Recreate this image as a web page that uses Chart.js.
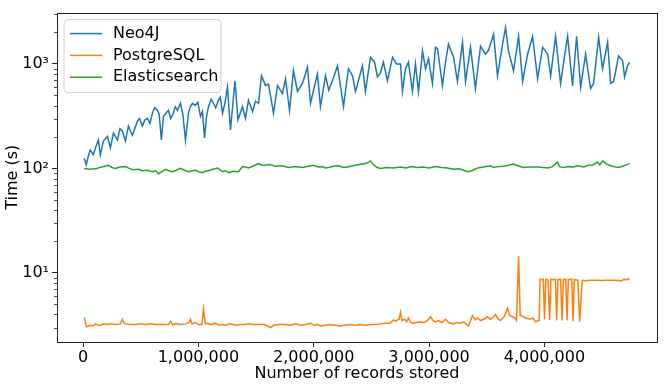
<!DOCTYPE html>
<html>
<head>
<meta charset="utf-8">
<script src="https://cdn.jsdelivr.net/npm/chart.js@4.4.0/dist/chart.umd.min.js"></script>
<style>
  html, body { margin: 0; padding: 0; background: #fff; }
  #wrap { width: 665px; height: 386px; }
</style>
</head>
<body>
<div id="wrap"><canvas id="timeChart" width="665" height="386"></canvas></div>
<script>
// Values (records stored -> seconds)
const neoRecords = [10000, 28000, 46000, 63000, 89000, 110000, 133000, 150000, 176000, 211000, 237000, 263000, 298000, 320000, 341000, 367000, 393000, 428000, 471000, 490000, 514000, 535000, 558000, 580000, 601000, 620000, 644000, 660000, 679000, 697000, 740000, 760000, 783000, 800000, 818000, 844000, 865000, 888000, 914000, 930000, 948000, 974000, 995000, 1018000, 1035000, 1053000, 1070000, 1087000, 1110000, 1131000, 1150000, 1174000, 1190000, 1209000, 1230000, 1252000, 1278000, 1317000, 1343000, 1382000, 1408000, 1434000, 1469000, 1495000, 1521000, 1547000, 1582000, 1608000, 1651000, 1686000, 1729000, 1755000, 1790000, 1824000, 1859000, 1902000, 1946000, 1972000, 1998000, 2032000, 2058000, 2102000, 2130000, 2162000, 2206000, 2258000, 2301000, 2336000, 2362000, 2422000, 2448000, 2492000, 2527000, 2552000, 2578000, 2604000, 2639000, 2683000, 2717000, 2752000, 2769000, 2795000, 2821000, 2856000, 2882000, 2908000, 2943000, 2969000, 2995000, 3029000, 3055000, 3073000, 3116000, 3140000, 3168000, 3212000, 3246000, 3290000, 3316000, 3359000, 3402000, 3446000, 3489000, 3515000, 3559000, 3593000, 3637000, 3663000, 3689000, 3732000, 3776000, 3811000, 3854000, 3897000, 3941000, 3984000, 4028000, 4054000, 4097000, 4140000, 4170000, 4201000, 4244000, 4279000, 4314000, 4357000, 4400000, 4426000, 4470000, 4504000, 4548000, 4574000, 4600000, 4643000, 4678000, 4695000, 4721000, 4738000];
const neoTime = [125, 108, 132, 150, 135, 160, 187, 135, 183, 203, 157, 218, 187, 240, 228, 183, 254, 208, 283, 300, 254, 290, 302, 270, 337, 380, 360, 330, 187, 315, 360, 300, 337, 390, 360, 420, 330, 187, 337, 390, 420, 400, 430, 315, 350, 196, 310, 390, 460, 420, 380, 450, 480, 337, 420, 600, 233, 690, 290, 390, 302, 450, 350, 440, 420, 770, 620, 640, 337, 620, 520, 720, 360, 860, 545, 650, 935, 420, 560, 800, 390, 770, 560, 690, 960, 390, 900, 770, 545, 960, 545, 1160, 1040, 750, 820, 1040, 690, 1160, 1000, 1000, 545, 900, 1040, 545, 1000, 545, 1330, 900, 1120, 650, 1450, 1400, 620, 1000, 1550, 1160, 680, 1610, 680, 1450, 580, 1480, 1240, 1350, 1920, 770, 1550, 2240, 1330, 860, 1840, 680, 1240, 1840, 720, 1450, 1240, 770, 1840, 650, 1100, 1840, 620, 1840, 600, 1240, 580, 650, 1800, 900, 1610, 650, 680, 1190, 1070, 750, 960, 1040];

const pgRecords = [10000, 29000, 45000, 63000, 85000, 107000, 130000, 150000, 180000, 210000, 237000, 280000, 323000, 341000, 355000, 367000, 410000, 454000, 500000, 540000, 584000, 630000, 670000, 714000, 740000, 757000, 775000, 810000, 844000, 890000, 920000, 931000, 945000, 974000, 1000000, 1030000, 1044000, 1060000, 1080000, 1110000, 1148000, 1180000, 1210000, 1235000, 1270000, 1300000, 1330000, 1365000, 1400000, 1440000, 1470000, 1495000, 1530000, 1570000, 1600000, 1625000, 1650000, 1700000, 1755000, 1800000, 1840000, 1885000, 1930000, 1972000, 2000000, 2030000, 2058000, 2100000, 2140000, 2188000, 2230000, 2270000, 2318000, 2360000, 2400000, 2448000, 2490000, 2535000, 2580000, 2622000, 2660000, 2690000, 2708000, 2740000, 2752000, 2765000, 2790000, 2805000, 2821000, 2840000, 2856000, 2890000, 2925000, 2960000, 2990000, 3012000, 3035000, 3055000, 3080000, 3110000, 3142000, 3170000, 3212000, 3240000, 3272000, 3300000, 3342000, 3376000, 3400000, 3420000, 3446000, 3475000, 3507000, 3530000, 3550000, 3576000, 3600000, 3619000, 3650000, 3680000, 3700000, 3723000, 3745000, 3758000, 3776000, 3790000, 3802000, 3837000, 3860000, 3880000, 3900000, 3923000, 3945000, 3955000, 3962000, 3975000, 3990000, 4001000, 4012000, 4030000, 4045000, 4056000, 4080000, 4095000, 4106000, 4117000, 4140000, 4153000, 4164000, 4185000, 4196000, 4207000, 4237000, 4248000, 4259000, 4290000, 4305000, 4328000, 4360000, 4400000, 4450000, 4500000, 4550000, 4600000, 4640000, 4670000, 4690000, 4710000, 4725000, 4738000];
const pgTime = [3.75, 3.05, 3.1, 3.15, 3.1, 3.25, 3.15, 3.15, 3.25, 3.2, 3.25, 3.2, 3.25, 3.6, 3.3, 3.25, 3.2, 3.2, 3.25, 3.2, 3.25, 3.2, 3.22, 3.2, 3.2, 3.45, 3.2, 3.25, 3.2, 3.25, 3.35, 3.6, 3.25, 3.35, 3.2, 3.2, 4.5, 3.25, 3.3, 3.2, 3.3, 3.15, 3.2, 3.15, 3.25, 3.2, 3.15, 3.2, 3.2, 3.25, 3.2, 3.2, 3.2, 3.2, 3.1, 3.0, 3.15, 3.2, 3.2, 3.15, 3.25, 3.15, 3.2, 3.3, 3.15, 3.2, 3.1, 3.15, 3.2, 3.15, 3.1, 3.15, 3.2, 3.15, 3.2, 3.15, 3.2, 3.2, 3.25, 3.3, 3.3, 3.55, 3.45, 3.6, 4.2, 3.5, 3.6, 3.4, 3.7, 3.35, 3.3, 3.35, 3.4, 3.35, 3.55, 3.8, 3.5, 3.4, 3.5, 3.35, 3.6, 3.35, 3.25, 3.35, 3.3, 3.4, 3.1, 3.9, 3.55, 3.7, 3.5, 3.6, 3.8, 3.6, 3.7, 4.0, 3.6, 3.5, 3.8, 4.6, 3.9, 3.8, 3.7, 3.5, 14.4, 3.9, 3.9, 3.7, 3.65, 3.6, 3.7, 3.4, 3.5, 3.5, 8.7, 8.6, 8.7, 3.6, 8.7, 8.6, 3.55, 8.7, 8.6, 8.7, 3.5, 8.6, 8.7, 3.5, 8.6, 8.7, 3.5, 8.6, 8.7, 3.45, 8.6, 8.5, 3.4, 8.5, 8.4, 8.5, 8.5, 8.45, 8.5, 8.5, 8.45, 8.4, 8.7, 8.55, 8.8, 8.7];

const esRecords = [10000, 50000, 107000, 160000, 219000, 250000, 280000, 320000, 367000, 400000, 436000, 480000, 514000, 560000, 601000, 630000, 653000, 690000, 714000, 745000, 775000, 810000, 844000, 880000, 914000, 945000, 974000, 1005000, 1035000, 1060000, 1087000, 1125000, 1165000, 1190000, 1209000, 1235000, 1261000, 1300000, 1348000, 1382000, 1410000, 1434000, 1480000, 1521000, 1550000, 1582000, 1620000, 1668000, 1720000, 1781000, 1840000, 1902000, 1950000, 1998000, 2040000, 2076000, 2100000, 2128000, 2170000, 2214000, 2245000, 2275000, 2320000, 2362000, 2420000, 2460000, 2492000, 2520000, 2550000, 2578000, 2630000, 2691000, 2750000, 2800000, 2850000, 2899000, 2950000, 3000000, 3060000, 3110000, 3159000, 3210000, 3260000, 3300000, 3333000, 3370000, 3420000, 3470000, 3533000, 3560000, 3593000, 3640000, 3690000, 3732000, 3770000, 3819000, 3870000, 3941000, 3990000, 4028000, 4070000, 4114000, 4130000, 4166000, 4210000, 4250000, 4288000, 4340000, 4380000, 4420000, 4461000, 4480000, 4504000, 4540000, 4574000, 4600000, 4635000, 4680000, 4710000, 4738000];
const esTime = [100, 98, 99, 103, 107, 102, 100, 103, 104, 100, 97, 98, 95, 96, 93, 95, 89, 94, 98, 95, 93, 96, 100, 96, 93, 95, 96, 93, 91, 94, 95, 98, 101, 97, 93, 95, 91, 94, 93, 104, 103, 101, 106, 111, 108, 107, 109, 105, 106, 102, 104, 102, 105, 107, 103, 104, 101, 102, 105, 106, 103, 102, 105, 107, 110, 112, 118, 108, 102, 100, 102, 101, 103, 101, 104, 102, 103, 101, 104, 102, 101, 98, 99, 96, 93, 95, 101, 103, 106, 102, 104, 105, 107, 110, 106, 102, 103, 103, 102, 101, 104, 115, 104, 102, 104, 103, 106, 103, 107, 108, 115, 108, 118, 110, 106, 104, 102, 105, 108, 111];

const xTicks = [0, 1000000, 2000000, 3000000, 4000000];
const yTicks = [10, 100, 1000];
const yMinorTicks = [3, 4, 5, 6, 7, 8, 9, 20, 30, 40, 50, 60, 70, 80, 90, 200, 300, 400, 500, 600, 700, 800, 900, 2000, 3000];
const superscripts = { 1: '\u00b9', 2: '\u00b2', 3: '\u00b3' };

const FONT = 'DejaVu Sans';
Chart.defaults.font.family = FONT;
Chart.defaults.color = '#000';

function toPoints(xs, ys) {
    return xs.map((x, i) => ({ x: x, y: ys[i] }));
}

// minor ticks on the log axis + the full box around the plot
const frameAndMinor = {
    id: 'frameAndMinor',
    afterDraw(chart) {
        const { ctx, chartArea: a, scales: { y } } = chart;
        ctx.save();
        ctx.strokeStyle = '#222';
        ctx.lineWidth = 0.8;
        yMinorTicks.forEach(v => {
            const py = Math.round(y.getPixelForValue(v)) + 0.5;
            ctx.beginPath();
            ctx.moveTo(a.left - 3, py);
            ctx.lineTo(a.left, py);
            ctx.stroke();
        });
        ctx.lineWidth = 1;
        ctx.strokeRect(Math.round(a.left) + 0.5, Math.round(a.top) + 0.5,
            Math.round(a.right - a.left), Math.round(a.bottom - a.top));
        ctx.restore();
    }
};

// matplotlib style legend in the upper left corner
const boxLegend = {
    id: 'boxLegend',
    afterDatasetsDraw(chart) {
        const { ctx, chartArea: a } = chart;
        const bx = a.left + 7, by = a.top + 7, bw = 157, bh = 73, r = 4;
        ctx.save();
        ctx.beginPath();
        ctx.moveTo(bx + r, by);
        ctx.arcTo(bx + bw, by, bx + bw, by + bh, r);
        ctx.arcTo(bx + bw, by + bh, bx, by + bh, r);
        ctx.arcTo(bx, by + bh, bx, by, r);
        ctx.arcTo(bx, by, bx + bw, by, r);
        ctx.closePath();
        ctx.fillStyle = 'rgba(255,255,255,0.8)';
        ctx.fill();
        ctx.strokeStyle = '#d0d0d0';
        ctx.lineWidth = 1;
        ctx.stroke();
        ctx.font = '16px "' + FONT + '"';
        ctx.textBaseline = 'middle';
        ctx.fillStyle = '#000';
        chart.data.datasets.forEach((ds, i) => {
            const ry = by + 14 + i * 21.8;
            ctx.strokeStyle = ds.borderColor;
            ctx.lineWidth = 1.5;
            ctx.beginPath();
            ctx.moveTo(bx + 6, ry);
            ctx.lineTo(bx + 38, ry);
            ctx.stroke();
            ctx.fillText(ds.label, bx + 49, ry);
        });
        ctx.restore();
    }
};

new Chart(document.getElementById('timeChart').getContext('2d'), {
    type: 'line',
    data: {
        datasets: [{
            label: 'Neo4J',
            data: toPoints(neoRecords, neoTime),
            borderColor: '#1f77b4',
            order: 3
        }, {
            label: 'PostgreSQL',
            data: toPoints(pgRecords, pgTime),
            borderColor: '#ff7f0e',
            order: 2
        }, {
            label: 'Elasticsearch',
            data: toPoints(esRecords, esTime),
            borderColor: '#2ca02c',
            order: 1
        }]
    },
    options: {
        responsive: false,
        animation: false,
        devicePixelRatio: 1,
        layout: { padding: { top: 8, right: 8, left: 0, bottom: 0 } },
        elements: {
            point: { radius: 0 },
            line: { borderWidth: 1.5, tension: 0, fill: false }
        },
        plugins: {
            legend: { display: false },
            tooltip: { enabled: false }
        },
        scales: {
            x: {
                type: 'linear',
                min: -226000,
                max: 4976000,
                bounds: 'data',
                afterBuildTicks: s => { s.ticks = xTicks.map(v => ({ value: v })); },
                afterFit: s => { s.height = 44; },
                grid: { drawOnChartArea: false, drawTicks: true, tickLength: 5, tickColor: '#222', tickWidth: 1 },
                border: { display: false },
                ticks: {
                    autoSkip: false,
                    maxRotation: 0,
                    padding: 1,
                    font: { size: 16 },
                    callback: v => v.toLocaleString('en-US')
                },
                title: {
                    display: true,
                    text: 'Number of records stored',
                    font: { size: 16 },
                    padding: { top: 0, bottom: 3 }
                }
            },
            y: {
                type: 'logarithmic',
                min: 2.18,
                max: 3100,
                bounds: 'data',
                afterBuildTicks: s => { s.ticks = yTicks.map(v => ({ value: v })); },
                afterFit: s => { s.width = 57; },
                grid: { drawOnChartArea: false, drawTicks: true, tickLength: 5, tickColor: '#222', tickWidth: 1 },
                border: { display: false },
                ticks: {
                    autoSkip: false,
                    padding: 3,
                    font: { size: 16 },
                    callback: v => '10' + superscripts[Math.round(Math.log10(v))]
                },
                title: {
                    display: true,
                    text: 'Time (s)',
                    font: { size: 16 },
                    padding: { top: 3, bottom: 0 }
                }
            }
        }
    },
    plugins: [frameAndMinor, boxLegend]
});
</script>
</body>
</html>
